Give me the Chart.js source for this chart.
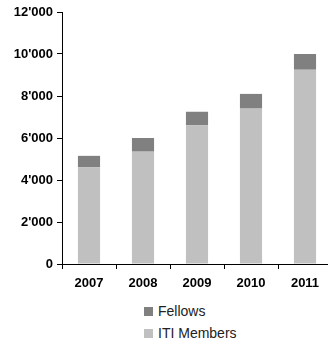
<!DOCTYPE html>
<html lang="en">
<head>
    <meta charset="UTF-8">
    <title>ITI Members and Fellows</title>
    <script src="https://cdn.jsdelivr.net/npm/chart.js"></script>
    <style>
        body {
            margin: 0;
            width: 328px;
            height: 342px;
            overflow: hidden;
            background: #fff;
            font-family: 'Liberation Sans', Arial, sans-serif;
        }
        .wrap {
            position: relative;
            width: 336px;
            height: 295px;
        }
        .legend {
            position: absolute;
            left: 144px;
            top: 303px;
            font-size: 14px;
            color: #222;
        }
        .legend div {
            height: 22px;
            line-height: 16px;
        }
        .legend span {
            display: inline-block;
            width: 9px;
            height: 9px;
            margin-right: 5px;
        }
    </style>
</head>
<body>
    <div class="wrap"><canvas id="chart" width="336" height="295"></canvas></div>
    <div class="legend" id="legend"></div>

    <script>
        // data
        const years = ["2007", "2008", "2009", "2010", "2011"];
        const itiMembers = [4600, 5350, 6600, 7400, 9250];
        const fellows = [550, 650, 650, 700, 750];
        const yTicks = [0, 2000, 4000, 6000, 8000, 10000, 12000];

        const darkGrey = "#808080";
        const lightGrey = "#c0c0c0";

        const fmt = v => String(v).replace(/\B(?=(\d{3})+(?!\d))/g, "'");
        const tickFont = { family: "Arial, 'Liberation Sans', sans-serif", size: 13, weight: 700 };

        new Chart(document.getElementById("chart"), {
            type: "bar",
            data: {
                labels: years,
                datasets: [
                    { label: "ITI Members", data: itiMembers, backgroundColor: lightGrey,
                      categoryPercentage: 1, barPercentage: 0.41 },
                    { label: "Fellows", data: fellows, backgroundColor: darkGrey,
                      categoryPercentage: 1, barPercentage: 0.41 }
                ]
            },
            options: {
                responsive: false,
                animation: false,
                layout: { padding: { top: 12, right: 4, left: 0, bottom: 0 } },
                plugins: { legend: { display: false }, tooltip: { enabled: false } },
                scales: {
                    x: {
                        stacked: true,
                        grid: { drawOnChartArea: false, offset: true, tickLength: 5, color: "#000" },
                        border: { color: "#000" },
                        ticks: { font: tickFont, color: "#000", padding: 7 },
                        afterFit: s => { s.height = 31; }
                    },
                    y: {
                        stacked: true,
                        min: 0,
                        max: 12000,
                        afterBuildTicks: s => { s.ticks = yTicks.map(v => ({ value: v })); },
                        grid: { drawOnChartArea: false, tickLength: 5, color: "#000" },
                        border: { color: "#000" },
                        ticks: { font: tickFont, color: "#000", padding: 4, callback: v => fmt(v) },
                        afterFit: s => { s.width = 62; }
                    }
                }
            }
        });

        // legend, Fellows listed first
        document.getElementById("legend").innerHTML =
            `<div><span style="background:${darkGrey}"></span>Fellows</div>` +
            `<div><span style="background:${lightGrey}"></span>ITI Members</div>`;
    </script>
</body>
</html>
